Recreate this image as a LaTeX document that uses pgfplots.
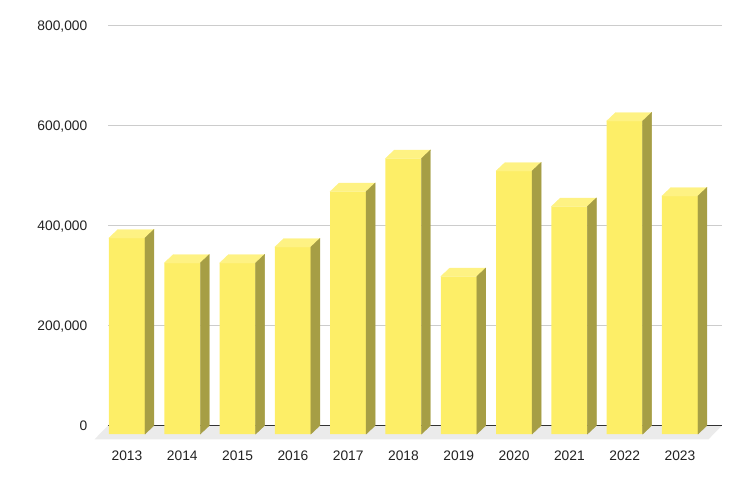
\documentclass[border=0pt]{standalone}
\usepackage{pgfplots}
\pgfplotsset{compat=1.18}
\usepackage{pgfplotstable}
\usepackage{fontspec}
\setmainfont{Liberation Sans}
\definecolor{barfront}{HTML}{FDEE67}
\definecolor{bartop}{HTML}{FEF283}
\definecolor{barside}{HTML}{A69E45}
\definecolor{floorgray}{HTML}{EBEBEB}
\definecolor{gridgray}{HTML}{CCCCCC}
\definecolor{zeroline}{HTML}{333333}
\definecolor{txt}{HTML}{222222}
\pgfdeclareplotmark{empty}{}
\newdimen\barh
\pgfplotstableread{
x year v
0 2013 392000
1 2014 342000
2 2015 342000
3 2016 374000
4 2017 485000
5 2018 551000
6 2019 315000
7 2020 526000
8 2021 455000
9 2022 626000
10 2023 476000
}\data
\begin{document}
\begin{tikzpicture}
\path[use as bounding box] (0,0) rectangle (733bp,477bp);
% back plane: grid, floor, y labels
\begin{axis}[at={(108bp,51.5bp)}, anchor=south west, scale only axis,
  width=614bp, height=400bp,
  xmin=-0.5063, xmax=10.597, ymin=0, ymax=800000, clip=false,
  axis line style={draw=none}, tick style={draw=none},
  xtick=\empty, ytick={0,200000,400000,600000,800000},
  ymajorgrids, grid style={gridgray, line width=0.8bp},
  scaled y ticks=false,
  /pgf/number format/assume math mode=true,
  /pgf/number format/fixed,
  /pgf/number format/1000 sep={,},
  yticklabel style={font=\fontsize{13.8bp}{16bp}\selectfont, text=txt,
    anchor=base east, inner sep=0pt, xshift=-20.5bp, yshift=-5bp},
]
\addplot[fill=floorgray, draw=none] coordinates {(-0.5063,0) (10.597,0) (10.353,-27600) (-0.750,-27600)} -- cycle;
\addplot[draw=zeroline, line width=1bp] coordinates {(-0.5063,0) (10.597,0)};
\end{axis}
% front plane: bars and x labels
\begin{axis}[at={(99bp,43bp)}, anchor=south west, scale only axis,
  width=614bp, height=400bp,
  xmin=-0.5063, xmax=10.597, ymin=0, ymax=800000, clip=false,
  axis line style={draw=none}, tick style={draw=none},
  ytick=\empty, xtick={0,1,2,3,4,5,6,7,8,9,10},
  xticklabels={2013,2014,2015,2016,2017,2018,2019,2020,2021,2022,2023},
  xticklabel style={font=\fontsize{13.8bp}{16bp}\selectfont, text=txt,
    anchor=base, inner sep=0pt, yshift=-26bp},
]
\addplot[ybar, bar width=36bp, bar shift=0pt, fill=barfront, draw=none] table[x=x, y=v] {\data};
\addplot[scatter, only marks, mark=empty,
  visualization depends on={rawy \as \val},
  scatter/@pre marker code/.code={%
    \pgfkeys{/pgf/fpu=true, /pgf/fpu/output format=fixed}%
    \pgfmathparse{\val/2000}%
    \global\let\barhval\pgfmathresult
    \pgfkeys{/pgf/fpu=false}%
    \global\barh=\barhval bp\relax
    \fill[bartop] (-18bp,0pt) -- (18bp,0pt) -- (27bp,8.5bp) -- (-9bp,8.5bp) -- cycle;
    \fill[barside] (18bp,0pt) -- (27bp,8.5bp) -- (27bp,8.5bp-\barh) -- (18bp,-\barh) -- cycle;
  },
  scatter/@post marker code/.code={},
] table[x=x, y=v] {\data};
\end{axis}
\end{tikzpicture}
\end{document}
